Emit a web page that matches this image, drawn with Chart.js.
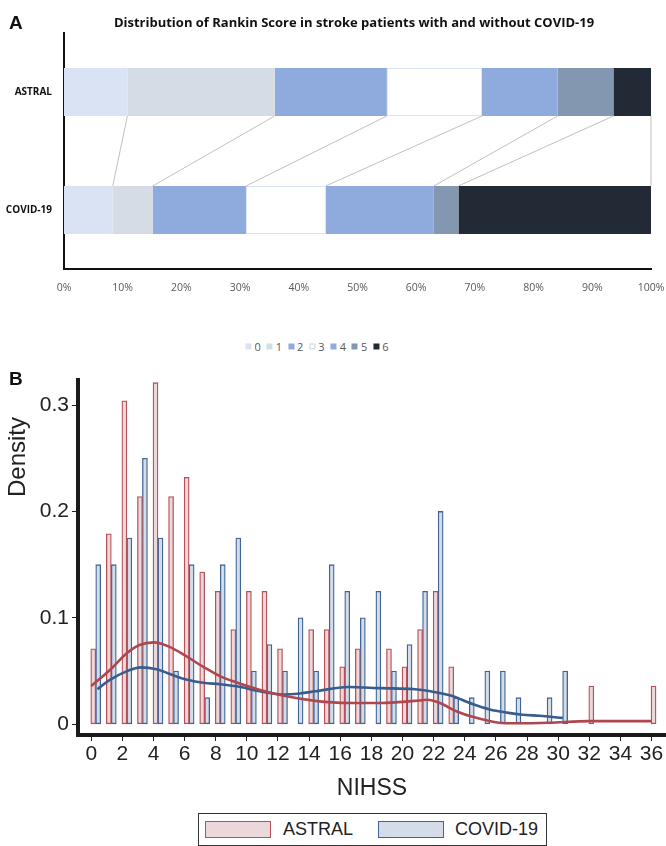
<!DOCTYPE html>
<html><head><meta charset="utf-8">
<script src="https://cdn.jsdelivr.net/npm/chart.js@4.4.1/dist/chart.umd.min.js"></script>
<style>
html,body{margin:0;padding:0;background:#fff}
body{width:666px;height:846px;position:relative;overflow:hidden;font-family:'Liberation Sans',Arial,sans-serif}
.t{position:absolute;white-space:nowrap;line-height:1;transform:translate(-50%,-50%)}
canvas{position:absolute;left:0}
#cA{top:0}
#cB{top:360px}
#panelA{left:9px;top:13px;font-weight:bold;font-size:19px;color:#111}
#panelB{left:9px;top:369px;font-weight:bold;font-size:19px;color:#111}
#titleA{left:354px;top:22px;font-family:'Open Sans',sans-serif;font-weight:700;font-size:13px;color:#111}
#legA{position:absolute;left:317px;top:346px;transform:translate(-50%,-50%);display:flex;font-family:'Open Sans',sans-serif;font-size:11px;color:#595959;line-height:1}
#legA .it{display:flex;align-items:center;margin:0 3px}
#legA .sw{width:6px;height:6px;margin-right:3px;box-sizing:border-box}
#dens{left:17px;top:457px;transform:translate(-50%,-50%) rotate(-90deg);font-size:24px;color:#222}
#nihss{left:372px;top:787px;font-size:23px;color:#222}
#legB{position:absolute;left:198px;top:813px;width:347px;height:31px;border:1px solid #333;z-index:2;background:#fff}
#legB .sw{position:absolute;top:7px;width:64px;height:15px;border:1px solid}
#legB .lb{position:absolute;top:15px;font-size:18px;color:#222;line-height:1;transform:translateY(-50%)}
</style></head><body>
<canvas id="cA" width="666" height="300"></canvas>
<canvas id="cB" width="666" height="486"></canvas>
<div class="t" id="panelA" style="transform:none">A</div>
<div class="t" id="panelB" style="transform:none">B</div>
<div class="t" id="titleA">Distribution of Rankin Score in stroke patients with and without COVID-19</div>
<div id="legA"></div>
<div class="t" id="dens">Density</div>
<div class="t" id="nihss">NIHSS</div>
<div id="legB"></div>
<script>
// ---------- Panel A data ----------
const rankinLevels = ['0','1','2','3','4','5','6'];
const groups = ['ASTRAL','COVID-19'];
const astralRankin = [10.8, 25.1, 19.1, 16.2, 12.9, 9.5, 6.4];
const covidRankin  = [8.3, 6.8, 15.9, 13.6, 18.4, 4.2, 32.8];
const pctTicks = [0,10,20,30,40,50,60,70,80,90,100];

// ---------- Panel B data ----------
const nihssTicks = [0,2,4,6,8,10,12,14,16,18,20,22,24,26,28,30,32,34,36];
const densityTicks = [0, 0.1, 0.2, 0.3];
const seriesNames = ['ASTRAL','COVID-19'];
// histogram density by NIHSS value (index = NIHSS score)
const astralDensity = [0.071,0.179,0.304,0.214,0.321,0.214,0.232,0.143,0.125,0.089,
                       0.125,0.125,0.071,0,0.089,0.089,0.054,0.071,0,0.071,
                       0.054,0.089,0.125,0.054,0,0,0,0,0,0,
                       0,0,0.036,0,0,0,0.036];
const covidDensity  = [0.15,0.15,0.175,0.25,0.175,0.05,0.15,0.025,0.15,0.175,
                       0.05,0.075,0.05,0.1,0.05,0.15,0.125,0.1,0.125,0.05,
                       0.075,0.125,0.2,0.025,0.025,0.05,0.05,0.025,0,0.025,
                       0.05];
// kernel density curves
const kdeAstralX = [0,1.2,2.3,3.1,4,5,6.1,7.2,8.3,9.3,10.8,12.3,14.4,16.5,18.6,20.8,21.6,22.4,23.5,24.5,26.2,27.3,29.4,32,36];
const kdeAstralY = [0.036,0.051,0.067,0.0745,0.077,0.073,0.064,0.054,0.045,0.0395,0.0325,0.027,0.022,0.020,0.020,0.022,0.023,0.020,0.012,0.007,0.0015,0.001,0.0015,0.003,0.003];
const kdeCovidX  = [0.4,1.2,2.3,3.2,4.2,5.1,6.1,7.2,8.3,9.6,10.8,12.3,13.4,14.4,16.5,18.6,20.8,21.8,23.1,24.5,25.6,26.7,27.7,28.8,30.3];
const kdeCovidY  = [0.033,0.0417,0.05,0.0535,0.0517,0.047,0.042,0.039,0.0376,0.035,0.031,0.028,0.029,0.031,0.035,0.034,0.033,0.031,0.027,0.019,0.014,0.011,0.009,0.008,0.006];

// ---------- styles ----------
const rankinColors = ['#dae3f3','#d6dce5','#8faadc','#ffffff','#8faadc','#8497b0','#222a35'];
const rankinBorders = ['#dae3f3','#d6dce5','#8faadc','#dae3f3','#8faadc','#8497b0','#222a35'];
const astralFill = '#ecd8da', astralLine = '#b4525a', astralCurve = '#b0464e';
const covidFill = '#d4dce7', covidLine = '#3f6597', covidCurve = '#385d8d';
const RED_SHIFT = 0.13, BLUE_SHIFT = 0.45; // bar offsets within each NIHSS bin

// ---------- Panel A ----------
const connectorPlugin = {
  id: 'connectors',
  afterDatasetsDraw(chart) {
    const ctx = chart.ctx;
    ctx.save();
    ctx.strokeStyle = '#b0b0b0';
    ctx.lineWidth = 0.8;
    chart.data.datasets.forEach((ds, i) => {
      const meta = chart.getDatasetMeta(i);
      const a = meta.data[0], c = meta.data[1];
      ctx.beginPath();
      ctx.moveTo(a.x, a.y + a.height / 2);
      ctx.lineTo(c.x, c.y - c.height / 2);
      ctx.stroke();
    });
    ctx.restore();
  }
};

new Chart(document.getElementById('cA'), {
  type: 'bar',
  data: {
    labels: groups,
    datasets: rankinLevels.map((lv, i) => ({
      label: lv,
      data: [astralRankin[i], covidRankin[i]],
      backgroundColor: rankinColors[i],
      borderColor: rankinBorders[i],
      borderWidth: i === 3 ? 1 : 0,
      borderSkipped: false,
      categoryPercentage: 1,
      barPercentage: 0.407
    }))
  },
  options: {
    indexAxis: 'y',
    responsive: false,
    animation: false,
    layout: { padding: { top: 33, right: 15, left: 0, bottom: 0 } },
    plugins: { legend: { display: false }, tooltip: { enabled: false } },
    scales: {
      x: {
        stacked: true, min: 0, max: 100,
        afterBuildTicks: s => { s.ticks = pctTicks.map(v => ({ value: v })); },
        ticks: { callback: v => v + '%', color: '#595959', padding: 5,
                 font: { family: 'Open Sans', size: 10.5 } },
        grid: { display: false },
        border: { display: true, color: '#111', width: 2 },
        afterFit: s => { s.height = 31; s.paddingRight = 0; s.paddingLeft = 0; }
      },
      y: {
        stacked: true,
        ticks: { color: '#111', padding: 4, font: { family: 'Open Sans', weight: 'bold', size: 10 } },
        grid: { display: false },
        border: { display: true, color: '#111', width: 2 },
        afterFit: s => { s.width = 64; s.paddingTop = 0; s.paddingBottom = 0; }
      }
    }
  },
  plugins: [connectorPlugin]
});

// legend A
const legA = document.getElementById('legA');
rankinLevels.forEach((lv, i) => {
  const it = document.createElement('div'); it.className = 'it';
  const sw = document.createElement('div'); sw.className = 'sw';
  sw.style.background = rankinColors[i];
  if (i === 3) sw.style.border = '1px solid #c9d3e6';
  const tx = document.createElement('span'); tx.textContent = lv;
  it.appendChild(sw); it.appendChild(tx); legA.appendChild(it);
});

// ---------- Panel B ----------
const toBars = (arr, shift) => arr.map((v, k) => v > 0 ? { x: k + shift, y: v } : null).filter(p => p);
const toLine = (xs, ys) => xs.map((x, k) => ({ x: x, y: ys[k] }));

new Chart(document.getElementById('cB'), {
  data: {
    datasets: [
      { type: 'line', label: seriesNames[0] + ' kde', data: toLine(kdeAstralX, kdeAstralY),
        borderColor: astralCurve, borderWidth: 2.6, pointRadius: 0, cubicInterpolationMode: 'monotone', order: 0 },
      { type: 'line', label: seriesNames[1] + ' kde', data: toLine(kdeCovidX, kdeCovidY),
        borderColor: covidCurve, borderWidth: 2.6, pointRadius: 0, cubicInterpolationMode: 'monotone', order: 0 },
      { type: 'bar', label: seriesNames[0], data: toBars(astralDensity, RED_SHIFT),
        backgroundColor: astralFill, borderColor: astralLine, borderWidth: 1.3, borderSkipped: false,
        barThickness: 5, grouped: false, order: 1 },
      { type: 'bar', label: seriesNames[1], data: toBars(covidDensity, BLUE_SHIFT),
        backgroundColor: covidFill, borderColor: covidLine, borderWidth: 1.3, borderSkipped: false,
        barThickness: 5, grouped: false, order: 1 }
    ]
  },
  options: {
    responsive: false,
    animation: false,
    layout: { padding: { top: 20, right: 0, left: 0, bottom: 0 } },
    plugins: { legend: { display: false }, tooltip: { enabled: false } },
    scales: {
      x: {
        type: 'linear', min: -0.85, max: 36.93, offset: false,
        afterBuildTicks: s => { s.ticks = nihssTicks.map(v => ({ value: v })); },
        ticks: { color: '#222', padding: 1, autoSkip: false, maxRotation: 0,
                 font: { family: "'Liberation Sans Narrow','Liberation Sans',Arial", size: 21 } },
        grid: { display: true, offset: false, drawOnChartArea: false, drawTicks: true, tickLength: 6, color: '#222', lineWidth: 1 },
        border: { display: true, color: '#1a1a1a', width: 4 },
        afterFit: s => { s.height = 111; }
      },
      y: {
        type: 'linear', min: -0.01005, max: 0.3235,
        afterBuildTicks: s => { s.ticks = densityTicks.map(v => ({ value: v })); },
        ticks: { color: '#222', padding: 3, callback: v => String(v),
                 font: { family: "'Liberation Sans',Arial", size: 21 } },
        grid: { display: true, drawOnChartArea: false, drawTicks: true, tickLength: 6, color: '#222', lineWidth: 1 },
        border: { display: true, color: '#1a1a1a', width: 4 },
        afterFit: s => { s.width = 78; }
      }
    }
  }
});

// legend B
const legB = document.getElementById('legB');
[[astralFill, astralLine, seriesNames[0], 6, 84], [covidFill, covidLine, seriesNames[1], 179, 256]].forEach(([f, b, name, sx, tx]) => {
  const sw = document.createElement('div'); sw.className = 'sw';
  sw.style.left = sx + 'px'; sw.style.background = f; sw.style.borderColor = b;
  const lb = document.createElement('div'); lb.className = 'lb';
  lb.style.left = tx + 'px'; lb.textContent = name;
  legB.appendChild(sw); legB.appendChild(lb);
});
</script>
</body></html>
